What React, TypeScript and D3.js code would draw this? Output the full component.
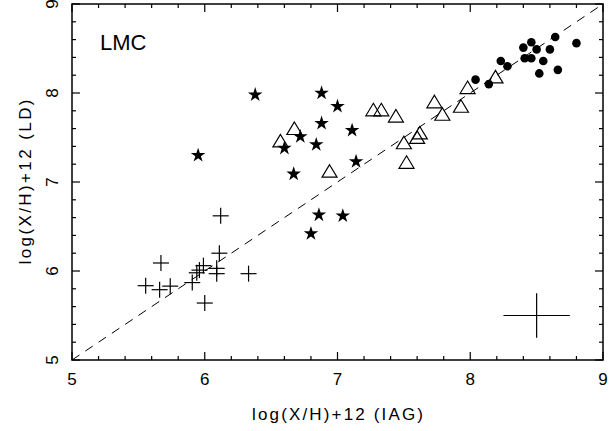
import React from "react";
import * as d3 from "d3";

const W = 616;
const H = 431;

// H II regions / PN etc. (plus signs)
const crossX = [6.12, 6.11, 5.67, 5.555, 5.66, 5.74, 5.906, 5.94, 5.96, 5.99, 6.09, 6.09, 6.33, 6.0];
const crossY = [6.62, 6.2, 6.09, 5.835, 5.79, 5.83, 5.87, 5.98, 6.01, 6.06, 6.03, 5.97, 5.97, 5.64];

// filled stars
const starX = [6.38, 5.95, 6.88, 7.0, 6.88, 7.11, 6.72, 6.84, 6.6, 6.67, 7.14, 6.86, 7.04, 6.8];
const starY = [7.98, 7.3, 8.0, 7.85, 7.66, 7.58, 7.51, 7.42, 7.38, 7.09, 7.23, 6.63, 6.62, 6.42];

// open triangles
const triX = [6.675, 6.57, 6.94, 7.27, 7.33, 7.44, 7.5, 7.52, 7.6, 7.62, 7.73, 7.79, 7.93, 7.98, 8.19];
const triY = [7.59, 7.45, 7.11, 7.8, 7.8, 7.73, 7.43, 7.21, 7.49, 7.54, 7.89, 7.75, 7.84, 8.05, 8.17];

// filled circles
const dotX = [8.04, 8.14, 8.23, 8.28, 8.4, 8.46, 8.5, 8.41, 8.46, 8.55, 8.52, 8.6, 8.64, 8.66, 8.8];
const dotY = [8.15, 8.1, 8.36, 8.3, 8.51, 8.57, 8.49, 8.39, 8.39, 8.36, 8.22, 8.49, 8.63, 8.26, 8.56];

// typical error bar
const errX = [8.5];
const errY = [5.5];
const errHalf = [0.25];

const majorTicks = [5, 6, 7, 8, 9];
const minorTicks = d3.range(5, 9.0001, 0.2).map((v) => Math.round(v * 10) / 10);

const xTitle = "log(X/H)+12  (IAG)";
const yTitle = "log(X/H)+12  (LD)";
const label = "LMC";

const FONT = "'Liberation Sans', Arial, sans-serif";

export default function App() {
  const left = 72;
  const right = 603;
  const top = 4;
  const bottom = 360;
  const x = d3.scaleLinear().domain([5, 9]).range([left, right]);
  const y = d3.scaleLinear().domain([5, 9]).range([bottom, top]);

  const star = d3.symbol(d3.symbolStar, 66)();
  const tri = "M0,-7.5L7.5,5L-7.5,5Z";
  const cs = 8;

  const isMajor = (v: number) => Math.abs(v - Math.round(v)) < 1e-6;

  return (
    <svg
      width={W}
      height={H}
      style={{ position: "absolute", left: 0, top: 0, background: "#fff" }}
    >
      <rect x={0} y={0} width={W} height={H} fill="#fff" />
      {/* ticks */}
      <g stroke="#000" strokeWidth={1.2}>
        {minorTicks.map((v) => {
          const len = isMajor(v) ? 8 : 4;
          return (
            <g key={"t" + v}>
              <line x1={x(v)} x2={x(v)} y1={bottom} y2={bottom - len} />
              <line x1={x(v)} x2={x(v)} y1={top} y2={top + len} />
              <line y1={y(v)} y2={y(v)} x1={left} x2={left + len} />
              <line y1={y(v)} y2={y(v)} x1={right} x2={right - len} />
            </g>
          );
        })}
      </g>
      <rect
        x={left}
        y={top}
        width={right - left}
        height={bottom - top}
        fill="none"
        stroke="#000"
        strokeWidth={1.5}
      />
      {/* tick labels */}
      <g fontFamily={FONT} fontSize={17} fill="#000">
        {majorTicks.map((v) => (
          <text key={"xl" + v} x={x(v)} y={385} textAnchor="middle">
            {v}
          </text>
        ))}
        {majorTicks.map((v) => (
          <text
            key={"yl" + v}
            transform={`translate(58,${y(v)}) rotate(-90)`}
            textAnchor="middle"
          >
            {v}
          </text>
        ))}
      </g>
      {/* titles */}
      <text
        x={(252 + 423) / 2}
        y={420}
        textAnchor="middle"
        fontFamily={FONT}
        fontSize={17}
        textLength={171}
        lengthAdjust="spacing"
      >
        {xTitle}
      </text>
      <text
        transform={`translate(31,${(y(5) + y(9)) / 2}) rotate(-90)`}
        textAnchor="middle"
        fontFamily={FONT}
        fontSize={17}
        textLength={165}
        lengthAdjust="spacing"
      >
        {yTitle}
      </text>
      <text x={100} y={50} fontFamily={FONT} fontSize={22}>
        {label}
      </text>
      {/* one-to-one line */}
      <line
        x1={x(5)}
        y1={y(5)}
        x2={x(9)}
        y2={y(9)}
        stroke="#000"
        strokeWidth={1}
        strokeDasharray="9,7"
      />
      {/* crosses */}
      <g stroke="#000" strokeWidth={1.2}>
        {crossX.map((v, i) => (
          <g key={"c" + i} transform={`translate(${x(v)},${y(crossY[i])})`}>
            <line x1={-cs} x2={cs} y1={0} y2={0} />
            <line x1={0} x2={0} y1={-cs} y2={cs} />
          </g>
        ))}
      </g>
      {/* stars */}
      <g fill="#000">
        {starX.map((v, i) => (
          <path key={"s" + i} d={star!} transform={`translate(${x(v)},${y(starY[i])})`} />
        ))}
      </g>
      {/* triangles */}
      <g fill="none" stroke="#000" strokeWidth={1.2}>
        {triX.map((v, i) => (
          <path key={"tr" + i} d={tri} transform={`translate(${x(v)},${y(triY[i])})`} />
        ))}
      </g>
      {/* circles */}
      <g fill="#000">
        {dotX.map((v, i) => (
          <circle key={"d" + i} cx={x(v)} cy={y(dotY[i])} r={4.3} />
        ))}
      </g>
      {/* error bar */}
      <g stroke="#000" strokeWidth={1.2}>
        {errX.map((v, i) => (
          <g key={"e" + i}>
            <line x1={x(v - errHalf[i])} x2={x(v + errHalf[i])} y1={y(errY[i])} y2={y(errY[i])} />
            <line x1={x(v)} x2={x(v)} y1={y(errY[i] - errHalf[i])} y2={y(errY[i] + errHalf[i])} />
          </g>
        ))}
      </g>
    </svg>
  );
}
